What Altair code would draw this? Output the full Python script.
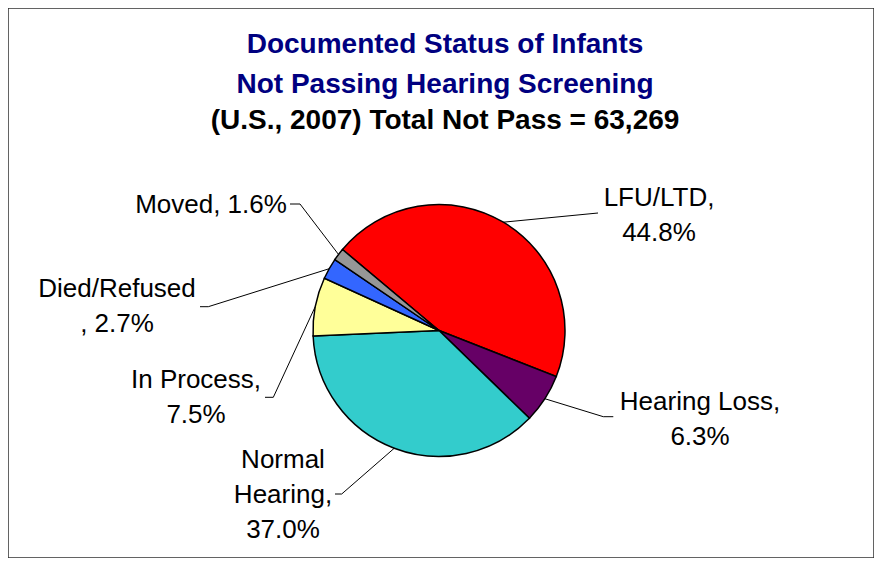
import math
import altair as alt
import pandas as pd

# ---- data ----
categories = ["LFU/LTD", "Hearing Loss", "Normal Hearing", "In Process", "Died/Refused", "Moved"]
percent = [44.8, 6.3, 37.0, 7.5, 2.7, 1.6]
slice_colors = ["#FF0000", "#660066", "#33CCCC", "#FFFF99", "#3366FF", "#969696"]
label_templates = ["{c},\n{v}", "{c},\n{v}", "Normal\nHearing,\n{v}", "{c},\n{v}", "{c}\n, {v}", "{c}, {v}"]

title_lines = ["Documented Status of Infants", "Not Passing Hearing Screening"]
subtitle_line = "(U.S., 2007) Total Not Pass = 63,269"

# ---- layout (chart pixel coordinates) ----
W, H = 866, 550
CX, CY = 431, 322.5
R = 126
START_DEG = 310
# label anchor (center x, first baseline), leader elbow, leader end
label_layout = {
    "LFU/LTD": ((651, 198), (590, 205), (590, 205)),
    "Hearing Loss": ((692, 402), (595.3, 408.7), (605.3, 408.7)),
    "Normal Hearing": ((275, 460), (333.7, 486), (327, 486)),
    "In Process": ((188, 380), (265.3, 389.3), (257, 389.3)),
    "Died/Refused": ((109, 289), (200.3, 298.7), (192, 298.7)),
    "Moved": ((203, 205), (292, 196), (282, 196)),
}

total = sum(percent)
pie_rows, label_rows, leader_rows = [], [], []
cum = 0.0
for i, (c, p, tpl) in enumerate(zip(categories, percent, label_templates)):
    mid = math.radians(START_DEG + 360.0 * (cum + p / 2) / total)
    cum += p
    pie_rows.append({"category": c, "value": p, "idx": i})
    (tx, ty), elbow, end = label_layout[c]
    label_rows.append({"category": c, "label": tpl.format(c=c, v=f"{p:.1f}%"), "x": tx, "y": ty})
    edge = (CX + R * math.sin(mid), CY - R * math.cos(mid))
    for k, pt in enumerate([edge, elbow, end]):
        leader_rows.append({"category": c, "pt": k, "x": pt[0], "y": pt[1]})

pie_df = pd.DataFrame(pie_rows)
label_df = pd.DataFrame(label_rows)
leader_df = pd.DataFrame(leader_rows)

xs = alt.Scale(domain=[0, W], nice=False, zero=False)
ys = alt.Scale(domain=[0, H], nice=False, zero=False, reverse=True)
start_rad = math.radians(START_DEG)

pie = alt.Chart(pie_df).mark_arc(outerRadius=R, stroke="black", strokeWidth=1.5).encode(
    theta=alt.Theta("value:Q", stack=True,
                    scale=alt.Scale(domain=[0, total], range=[start_rad, start_rad + 2 * math.pi], nice=False)),
    color=alt.Color("category:N", scale=alt.Scale(domain=categories, range=slice_colors), legend=None),
    order=alt.Order("idx:Q", sort="ascending"),
    x=alt.XDatum(CX, scale=xs, axis=None),
    y=alt.YDatum(CY, scale=ys, axis=None),
)

leaders = alt.Chart(leader_df).mark_line(color="black", strokeWidth=1).encode(
    x=alt.X("x:Q", scale=xs, axis=None),
    y=alt.Y("y:Q", scale=ys, axis=None),
    detail="category:N",
    order=alt.Order("pt:Q"),
)

labels = alt.Chart(label_df).mark_text(
    align="center", baseline="alphabetic", fontSize=26, lineHeight=35, lineBreak="\n",
    font="Liberation Sans", color="black",
).encode(
    x=alt.X("x:Q", scale=xs, axis=None),
    y=alt.Y("y:Q", scale=ys, axis=None),
    text="label:N",
)

chart = alt.layer(pie, leaders, labels).properties(
    width=W, height=H,
    autosize=alt.AutoSizeParams(type="none"),
    padding=0,
    background="white",
    title=alt.Title(
        text=title_lines, subtitle=subtitle_line, anchor="middle", orient="top", offset=-127, dx=4,
        font="Liberation Sans", fontSize=28, fontWeight="bold", color="#000080", lineHeight=40,
        subtitleFont="Liberation Sans", subtitleFontSize=28, subtitleFontWeight="bold",
        subtitleColor="black", subtitleLineHeight=40, subtitlePadding=8,
    ),
).configure_view(stroke="#303030", strokeWidth=1.5)

chart.save("out.html", embed_options={"renderer": "svg", "actions": False})
